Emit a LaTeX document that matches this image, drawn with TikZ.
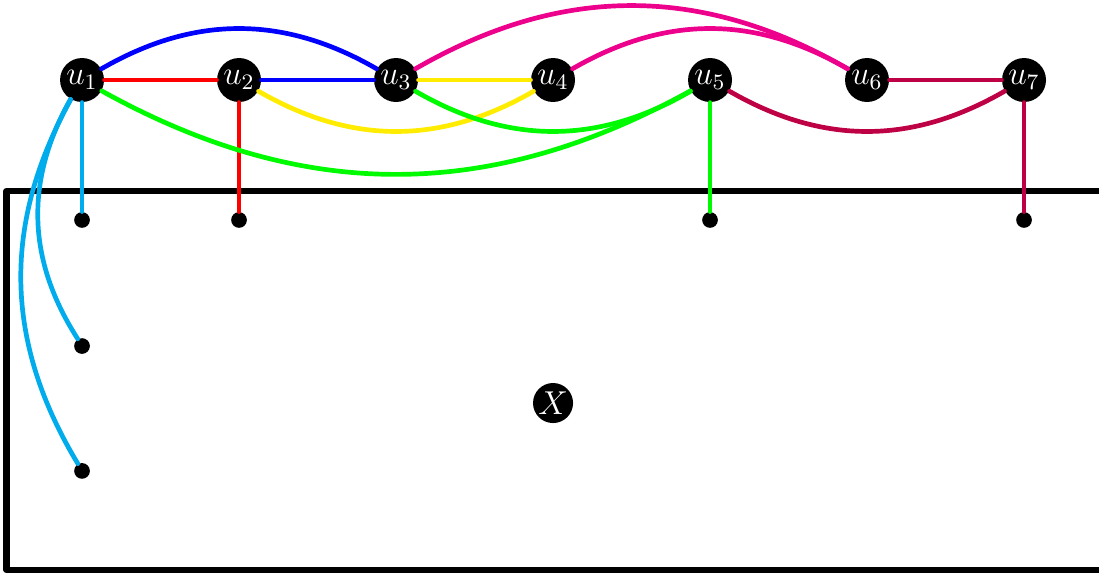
\documentclass[tikz,border=0pt]{standalone}
\usepackage{amsmath,amssymb}
\usepackage{tikz}
\usetikzlibrary{positioning}

\definecolor{ecyan}{RGB}{0,172,236}
\definecolor{emagenta}{RGB}{236,0,140}
\definecolor{ecrimson}{RGB}{190,0,68}
\definecolor{eyellow}{RGB}{255,236,0}
\definecolor{egreen}{RGB}{0,250,0}
\tikzset{
  vtx/.style={circle,fill=black,text=white,inner sep=0pt,minimum size=0.56cm,font=\large},
  dotv/.style={circle,fill=black,inner sep=0pt,minimum size=0.2cm},
  edge/.style={line width=1.7pt}
}

\begin{document}
\begin{tikzpicture}[line cap=round,line join=round]
\path[use as bounding box] (-1.045,1.019) rectangle (12.955,-6.331);
% the set X
\draw[line width=2.2pt,line cap=butt] (13.4,-1.414) -- (-0.962,-1.414) -- (-0.962,-6.242) -- (13.4,-6.242);
\node[vtx,minimum size=0.51cm] (X) at (6,-4.115) {$X$};
% vertices u_1..u_7
\node[vtx] (u1) at (0,0) {$u_1$};
\node[vtx] (u2) at (2,0) {$u_2$};
\node[vtx] (u3) at (4,0) {$u_3$};
\node[vtx] (u4) at (6,0) {$u_4$};
\node[vtx] (u5) at (8,0) {$u_5$};
\node[vtx] (u6) at (10,0) {$u_6$};
\node[vtx] (u7) at (12,0) {$u_7$};
% neighbours in X
\node[dotv] (x1) at (0,-1.783) {};
\node[dotv] (x2) at (2,-1.783) {};
\node[dotv] (x5) at (8,-1.783) {};
\node[dotv] (x7) at (12,-1.783) {};
\node[dotv] (y1) at (0,-3.389) {};
\node[dotv] (y2) at (0,-4.98) {};
% edges
\draw[edge,red] (u1) -- (u2);
\draw[edge,red] (u2) -- (x2);
\draw[edge,blue] (u2) -- (u3);
\draw[edge,blue] (u1) to[bend left=30] (u3);
\draw[edge,eyellow] (u3) -- (u4);
\draw[edge,eyellow] (u2) to[bend right=30] (u4);
\draw[edge,emagenta] (u3) to[bend left=30] (u6);
\draw[edge,emagenta] (u4) to[bend left=30] (u6);
\draw[edge,egreen] (u1) to[bend right=29] (u5);
\draw[edge,egreen] (u3) to[bend right=30] (u5);
\draw[edge,egreen] (u5) -- (x5);
\draw[edge,ecrimson] (u6) -- (u7);
\draw[edge,ecrimson] (u5) to[bend right=30] (u7);
\draw[edge,ecrimson] (u7) -- (x7);
\draw[edge,ecyan] (u1) -- (x1);
\draw[edge,ecyan] (u1) to[bend right=31] (y1);
\draw[edge,ecyan] (u1) to[bend right=30] (y2);
\end{tikzpicture}
\end{document}
